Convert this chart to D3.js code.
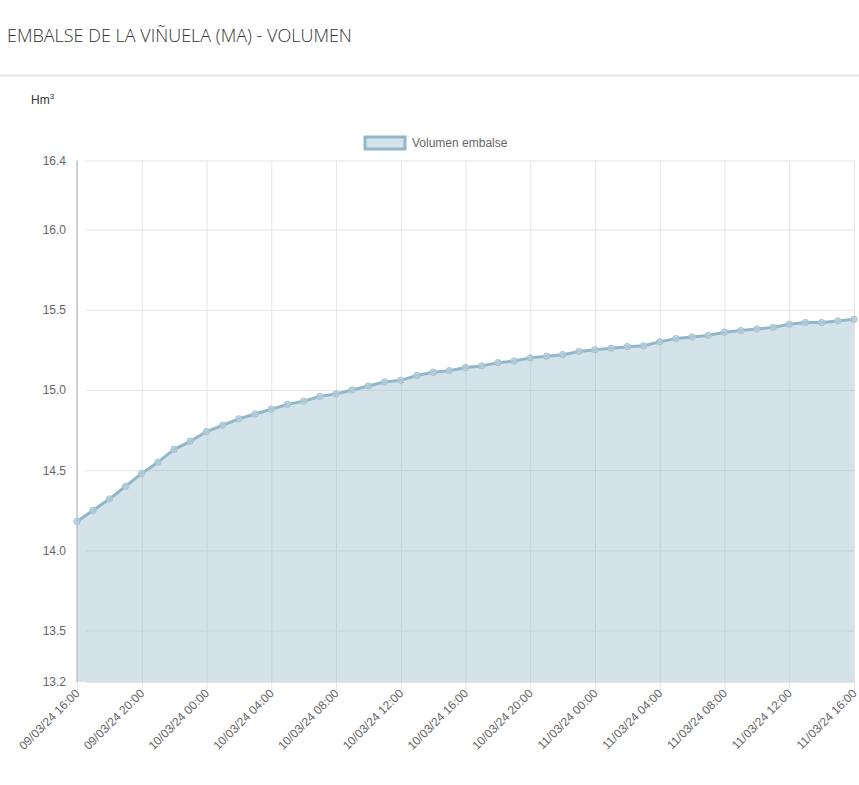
<!DOCTYPE html>
<html>
<head>
<meta charset="utf-8">
<script src="https://cdn.jsdelivr.net/npm/d3@7"></script>
<style>
    body { margin: 0; background: #fff; }
    svg { display: block; }
</style>
</head>
<body>
<svg id="chart" width="859" height="785"></svg>
<script>
// Volumen horario (Hm3), 09/03/24 16:00 -> 11/03/24 16:00
const volumen = [
    14.18, 14.25, 14.32, 14.40, 14.48, 14.55, 14.63, 14.68, 14.74, 14.78,
    14.82, 14.85, 14.88, 14.91, 14.93, 14.96, 14.975, 15.00, 15.025, 15.05,
    15.06, 15.09, 15.11, 15.12, 15.14, 15.15, 15.17, 15.18, 15.20, 15.21,
    15.22, 15.24, 15.25, 15.26, 15.27, 15.275, 15.30, 15.32, 15.33, 15.34,
    15.36, 15.37, 15.38, 15.39, 15.41, 15.42, 15.42, 15.43, 15.44
];
const inicio = new Date(2024, 2, 9, 16, 0);
const fin = new Date(2024, 2, 11, 16, 0);
const horas = d3.timeHour.range(inicio, d3.timeHour.offset(fin, 1));
const yTicks = [13.18, 13.5, 14.0, 14.5, 15.0, 15.5, 16.0, 16.43];
const yDomain = [13.18, 16.43];

const titulo = 'EMBALSE DE LA VIÑUELA (MA) - VOLUMEN';
const serie = 'Volumen embalse';

const svg = d3.select('#chart');
const width = +svg.attr('width');
const margin = { top: 160.5, right: 5, bottom: 103, left: 77 };
const innerW = width - margin.left - margin.right;
const innerH = +svg.attr('height') - margin.top - margin.bottom;

const lineColor = '#93b7c8';
const fillColor = 'rgba(147, 183, 200, 0.4)';
const gridColor = '#e5e5e5';
const textColor = '#666666';

// Cabecera
svg.append('text')
    .attr('x', 7)
    .attr('y', 42)
    .attr('font-family', 'Open Sans')
    .attr('font-weight', 300)
    .attr('font-size', 18)
    .attr('fill', '#333')
    .text(titulo);
svg.append('rect')
    .attr('x', 0)
    .attr('y', 74.5)
    .attr('width', width)
    .attr('height', 2)
    .attr('fill', '#e3e3e3');

const unidad = svg.append('text')
    .attr('x', 31)
    .attr('y', 104)
    .attr('font-family', 'Liberation Sans')
    .attr('font-size', 12)
    .attr('fill', '#333');
unidad.append('tspan').text('Hm');
unidad.append('tspan').attr('font-size', 8).attr('dy', -5).text('3');

// Leyenda
const legend = svg.append('g').attr('transform', 'translate(365, 137)');
legend.append('rect')
    .attr('width', 40)
    .attr('height', 12)
    .attr('fill', fillColor)
    .attr('stroke', lineColor)
    .attr('stroke-width', 3);
legend.append('text')
    .attr('x', 47)
    .attr('y', 10)
    .attr('font-family', 'Liberation Sans')
    .attr('font-size', 12)
    .attr('fill', textColor)
    .text(serie);

const g = svg.append('g').attr('transform', `translate(${margin.left},${margin.top})`);

const x = d3.scaleTime().domain([inicio, fin]).range([0, innerW]);
const y = d3.scaleLinear().domain(yDomain).range([innerH, 0]);

const fmt = d3.timeFormat('%d/%m/%y %H:%M');
const xTicks = d3.timeHour.every(4).range(inicio, d3.timeHour.offset(fin, 1));

// Rejilla + ejes
const yAxis = g.append('g')
    .call(d3.axisLeft(y).tickValues(yTicks).tickFormat(d3.format('.1f')).tickSize(-innerW).tickPadding(3))
    .call((s) => s.select('.domain').remove());
yAxis.selectAll('line').attr('stroke', gridColor).attr('x1', 9);
yAxis.selectAll('text')
    .attr('font-family', 'Liberation Sans')
    .attr('font-size', 12)
    .attr('fill', textColor)
    .attr('dx', -8);

const xAxis = g.append('g')
    .attr('transform', `translate(0,${innerH})`)
    .call(d3.axisBottom(x).tickValues(xTicks).tickFormat(fmt).tickSize(-innerH).tickPadding(0))
    .call((s) => s.select('.domain').remove());
xAxis.selectAll('line').attr('stroke', gridColor).attr('y1', 8);
xAxis.selectAll('text')
    .attr('font-family', 'Liberation Sans')
    .attr('font-size', 12)
    .attr('fill', textColor)
    .attr('text-anchor', 'end')
    .attr('dy', null)
    .attr('y', 0)
    .attr('transform', 'translate(3,12) rotate(-45)');

const datos = horas.map((h, i) => ({ t: h, v: volumen[i] }));

// Area (translucida, deja ver la rejilla)
g.append('path')
    .datum(datos)
    .attr('fill', fillColor)
    .attr('d', d3.area().x((d) => x(d.t)).y0(innerH).y1((d) => y(d.v)));

// Linea de ejes sobre el area
g.append('line')
    .attr('x1', 0).attr('x2', 0)
    .attr('y1', 0).attr('y2', innerH)
    .attr('stroke', '#c4c4c4')
    .attr('stroke-width', 1.5);

g.append('path')
    .datum(datos)
    .attr('fill', 'none')
    .attr('stroke', lineColor)
    .attr('stroke-width', 3)
    .attr('stroke-linejoin', 'round')
    .attr('d', d3.line().x((d) => x(d.t)).y((d) => y(d.v)));

g.selectAll('circle')
    .data(datos)
    .enter()
    .append('circle')
    .attr('cx', (d) => x(d.t))
    .attr('cy', (d) => y(d.v))
    .attr('r', 3.2)
    .attr('fill', '#b3cdd9')
    .attr('fill-opacity', 0.8)
    .attr('stroke', '#a6c4d2')
    .attr('stroke-width', 1);
</script>
</body>
</html>
